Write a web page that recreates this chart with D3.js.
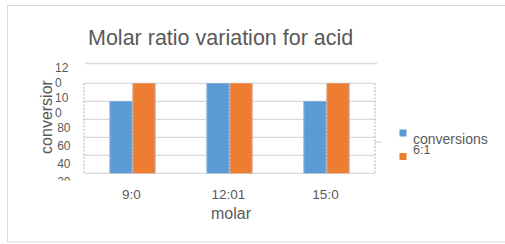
<!DOCTYPE html>
<html>
<head>
<meta charset="utf-8">
<script src="https://cdnjs.cloudflare.com/ajax/libs/d3/7.8.5/d3.min.js"></script>
<style>
   body { margin: 0; background: #fff; }
   text { font-family: "Liberation Sans", Arial, sans-serif; fill: #595959; }
</style>
</head>
<body>
<div class="render"></div>
<script>
"use strict";

var categories = ["9:0", "12:01", "15:0"];
var seriesNames = ["conversions", "6:1"];
var conversions = [80, 100, 80];
var ratio61 = [100, 100, 100];
var gridTicks = [0, 20, 40, 60, 80, 100];
// tick labels as excel drew them (shifted one step and wrapped)
var yTickLabels = ["20", "40", "60", "80", "100", "120"];
var colors = ["#5b9bd5", "#ed7d31"];

var width = 505;
var height = 244;

var svg = d3.select('.render').append('svg').attr('width', width).attr('height', height);

// chart frame
svg.append('rect').attr('x', 7.5).attr('y', 5.5).attr('width', 520).attr('height', 236.5)
   .attr('fill', '#fff').attr('stroke', '#d9d9d9');

svg.append('text').attr('x', 88).attr('y', 45).style('font-size', '21.5px')
   .text('Molar ratio variation for acid');

var x0 = d3.scaleBand().domain(categories).range([84, 375]).paddingInner(0.526).paddingOuter(0.263);
var x1 = d3.scaleBand().domain(seriesNames).range([0, x0.bandwidth()]);
var y = d3.scaleLinear().domain([0, 100]).range([173.3, 83.3]);

// plot area top line
svg.append('line').attr('x1', 85).attr('x2', 377).attr('y1', 63.5).attr('y2', 63.5)
   .attr('stroke', '#d9d9d9').attr('stroke-width', 1.3);

svg.selectAll('.grid').data(gridTicks).enter().append('line').attr('class', 'grid')
   .attr('x1', 84).attr('x2', 375)
   .attr('y1', function (d) { return y(d); }).attr('y2', function (d) { return y(d); })
   .attr('stroke', '#d9d9d9').attr('stroke-width', 1.3);

svg.append('line').attr('x1', 375).attr('x2', 382).attr('y1', 142).attr('y2', 142)
   .attr('stroke', '#d9d9d9').attr('stroke-width', 1.3);

// dashed plot sides
svg.selectAll('.side').data(x0.range()).enter().append('line').attr('class', 'side')
   .attr('x1', function (d) { return d; }).attr('x2', function (d) { return d; })
   .attr('y1', y(100)).attr('y2', y(0))
   .attr('stroke', '#9db3d3').attr('stroke-dasharray', '2,1.5');

var rows = categories.map(function (c, i) {
   return { cat: c, values: [conversions[i], ratio61[i]] };
});

var groups = svg.selectAll('.group').data(rows).enter().append('g').attr('class', 'group')
   .attr('transform', function (d) { return 'translate(' + x0(d.cat) + ',0)'; });

var bars = groups.selectAll('.bar').data(function (d) {
   return d.values.map(function (v, j) { return { name: seriesNames[j], value: v, j: j }; });
}).enter();

bars.append('rect').attr('class', 'bar')
   .attr('x', function (d) { return x1(d.name); })
   .attr('width', x1.bandwidth())
   .attr('y', function (d) { return y(d.value); })
   .attr('height', function (d) { return y(0) - y(d.value); })
   .attr('fill', function (d) { return colors[d.j]; });

// dotted bar edges
bars.append('path')
   .attr('d', function (d) {
      var xa = x1(d.name) + 0.5, xb = x1(d.name) + x1.bandwidth() - 0.5;
      return 'M' + xa + ',' + y(d.value) + 'V' + y(0) + 'M' + xb + ',' + y(d.value) + 'V' + y(0);
   })
   .attr('fill', 'none').attr('stroke', '#a9bedb').attr('stroke-dasharray', '2,1.5');

// y tick labels, stacked from the bottom like the wrapped excel labels
var clip = svg.append('clipPath').attr('id', 'yclip');
clip.append('rect').attr('x', 0).attr('y', 0).attr('width', 84).attr('height', 180.5);
var yLab = svg.append('g').attr('clip-path', 'url(#yclip)');

var step = y(0) - y(20);
var lineH = 15;
var cursor = y(0) + 12.8;
var prevMulti = false;
yTickLabels.forEach(function (t, i) {
   var lines = t.length > 2 ? [t.slice(0, 2), t.slice(2)] : [t];
   var multi = lines.length > 1;
   if (i > 0) cursor -= (!multi && !prevMulti) ? step : lineH;
   for (var k = lines.length - 1; k >= 0; k--) {
      yLab.append('text').attr('x', multi ? 55 : 70.5).attr('y', cursor)
         .attr('text-anchor', multi ? 'start' : 'end').style('font-size', '12px')
         .text(lines[k]);
      if (k > 0) cursor -= lineH;
   }
   prevMulti = multi;
});

svg.append('text').attr('transform', 'translate(51.5,117) rotate(-90)')
   .attr('text-anchor', 'middle').style('font-size', '16px').text('conversior');

svg.selectAll('.xlab').data(categories).enter().append('text').attr('class', 'xlab')
   .attr('x', function (d) { return x0(d) + x0.bandwidth() / 2 - 1; })
   .attr('y', 199).attr('text-anchor', 'middle').style('font-size', '13.5px')
   .text(function (d) { return d; });

svg.append('text').attr('x', 231).attr('y', 218.5).attr('text-anchor', 'middle')
   .style('font-size', '16px').text('molar');

// legend
var legend = svg.selectAll('.legend').data(seriesNames).enter().append('g').attr('class', 'legend');
legend.append('rect').attr('x', 399.5)
   .attr('y', function (d, i) { return 129.5 + i * 23.5; })
   .attr('width', 7).attr('height', 7)
   .attr('fill', function (d, i) { return colors[i]; });
legend.append('text').attr('x', 413)
   .attr('y', function (d, i) { return 143.5 + i * 10; })
   .style('font-size', function (d, i) { return i === 0 ? '14px' : '12.5px'; })
   .text(function (d) { return d; });
</script>
</body>
</html>
